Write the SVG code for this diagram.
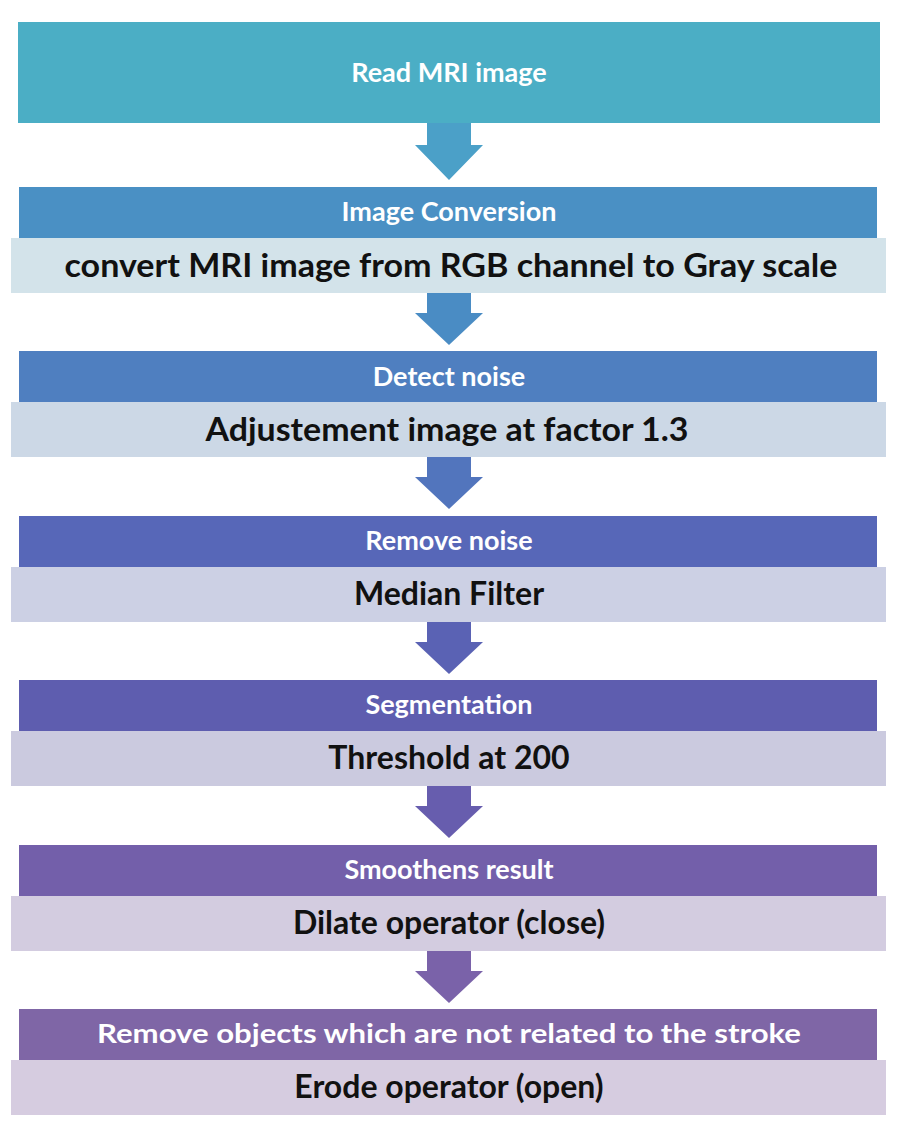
<svg xmlns="http://www.w3.org/2000/svg" width="899" height="1127" viewBox="0 0 899 1127">
<style>
.h{font-family:Lato,"Open Sans",sans-serif;font-weight:bold;font-size:27px;fill:#fff;text-anchor:middle}
.s{font-family:Lato,"Open Sans",sans-serif;font-weight:bold;font-size:32px;fill:#111;text-anchor:middle}
</style>
<rect width="899" height="1127" fill="#fff"/>
<g id="n0"><rect x="18" y="22" width="862" height="101" fill="#4BAEC5"/><text class="h" x="449" y="82">Read MRI image</text></g>
<g id="connectors">
<path d="M427 123h44v22h12l-34 35-34-35h12z" fill="#4BA0C8"/>
<path d="M427 293h44v20h12l-34 32-34-32h12z" fill="#4A8CC4"/>
<path d="M427 457h44v20h12l-34 32-34-32h12z" fill="#5275BD"/>
<path d="M427 622h44v20h12l-34 32-34-32h12z" fill="#5A62B4"/>
<path d="M427 786h44v20h12l-34 32-34-32h12z" fill="#675DAE"/>
<path d="M427 951h44v20h12l-34 32-34-32h12z" fill="#7A62A9"/>
</g>
<g id="n1"><rect x="19" y="187" width="858" height="51" fill="#4A90C4"/><rect x="11" y="238" width="875" height="55" fill="#D3E3EA"/><text class="h" x="449" y="221">Image Conversion</text><text class="s" x="451" y="277" textLength="773" lengthAdjust="spacingAndGlyphs">convert MRI image from RGB channel to Gray scale</text></g>
<g id="n2"><rect x="19" y="351" width="858" height="51" fill="#4F7FC0"/><rect x="11" y="402" width="875" height="55" fill="#CCD8E6"/><text class="h" x="449" y="386">Detect noise</text><text class="s" x="447" y="441" textLength="483" lengthAdjust="spacingAndGlyphs">Adjustement image at factor 1.3</text></g>
<g id="n3"><rect x="19" y="516" width="858" height="51" fill="#5767B8"/><rect x="11" y="567" width="875" height="55" fill="#CCD0E4"/><text class="h" x="449" y="550">Remove noise</text><text class="s" x="449" y="605">Median Filter</text></g>
<g id="n4"><rect x="19" y="680" width="858" height="51" fill="#5E5DAF"/><rect x="11" y="731" width="875" height="55" fill="#CBCADF"/><text class="h" x="449" y="714">Segmentation</text><text class="s" x="449" y="769">Threshold at 200</text></g>
<g id="n5"><rect x="19" y="845" width="858" height="51" fill="#735FAA"/><rect x="11" y="896" width="875" height="55" fill="#D3CCE0"/><text class="h" x="449" y="879">Smoothens result</text><text class="s" x="449" y="934">Dilate operator (close)</text></g>
<g id="n6"><rect x="19" y="1009" width="858" height="51" fill="#7F66A6"/><rect x="11" y="1060" width="875" height="55" fill="#D6CCE0"/><text class="h" x="449" y="1043" textLength="704" lengthAdjust="spacingAndGlyphs">Remove objects which are not related to the stroke</text><text class="s" x="449" y="1098">Erode operator (open)</text></g>
</svg>
